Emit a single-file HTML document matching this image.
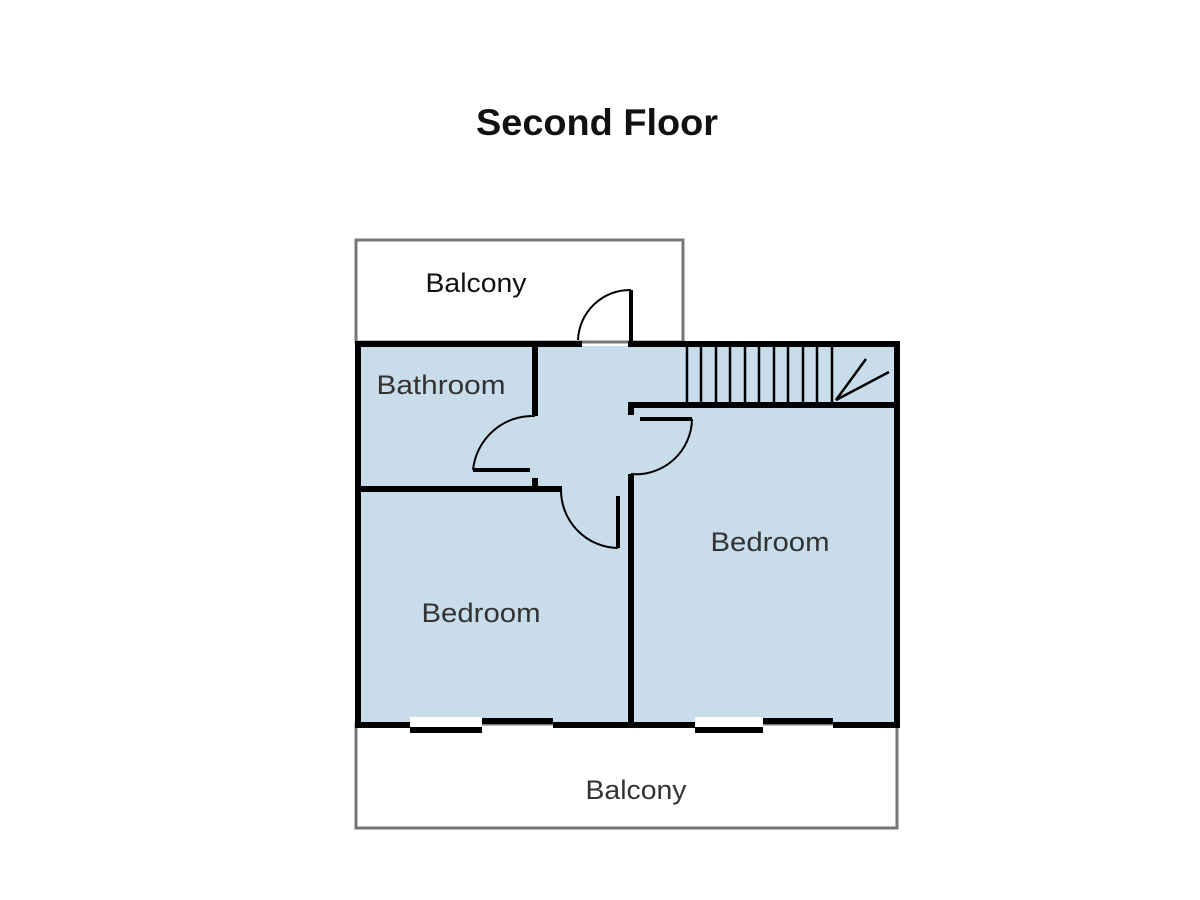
<!DOCTYPE html>
<html><head><style>
html,body{margin:0;padding:0;background:#fff;width:1200px;height:900px;overflow:hidden}
</style></head><body>
<svg width="1200" height="900" viewBox="0 0 1200 900" xmlns="http://www.w3.org/2000/svg" font-family="Liberation Sans, DejaVu Sans, sans-serif">
<text x="597" y="135" text-anchor="middle" font-size="37" font-weight="bold" fill="#111" textLength="242" lengthAdjust="spacingAndGlyphs">Second Floor</text>
<!-- top balcony -->
<rect x="356" y="240" width="327" height="102" fill="#fff" stroke="#777" stroke-width="3"/>
<text x="476" y="292" text-anchor="middle" font-size="27" fill="#111" textLength="101" lengthAdjust="spacingAndGlyphs">Balcony</text>
<!-- bottom balcony -->
<rect x="356" y="724" width="541" height="104" fill="#fff" stroke="#777" stroke-width="3"/>
<text x="636" y="799" text-anchor="middle" font-size="27" fill="#333" textLength="101" lengthAdjust="spacingAndGlyphs">Balcony</text>
<!-- main fill -->
<rect x="360" y="346" width="535" height="377" fill="#c9dcea"/>
<rect x="410" y="717" width="72" height="10" fill="#fff"/>
<rect x="695" y="717" width="68" height="10" fill="#fff"/>
<g stroke="#000" fill="none" stroke-width="6">
<polyline points="582,344 358,344 358,725 410,725"/>
<polyline points="628,344 897,344 897,725 833,725"/>
<line x1="553" y1="725" x2="695" y2="725"/>
<line x1="410" y1="730" x2="482" y2="730"/>
<line x1="482" y1="721" x2="553" y2="721"/>
<line x1="695" y1="730" x2="763" y2="730"/>
<line x1="763" y1="721" x2="833" y2="721"/>
<line x1="535" y1="344" x2="535" y2="416"/>
<line x1="358" y1="489" x2="562" y2="489"/>
<line x1="535" y1="478" x2="535" y2="489"/>
<line x1="628" y1="405" x2="897" y2="405"/>
<line x1="631" y1="405" x2="631" y2="415"/>
<line x1="631" y1="474" x2="631" y2="724"/>
</g>
<g stroke="#000" fill="none" stroke-width="4">
<line x1="631" y1="290" x2="631" y2="344"/>
<line x1="473" y1="470" x2="530" y2="470"/>
<line x1="640" y1="419" x2="692" y2="419"/>
<line x1="618" y1="496" x2="618" y2="548"/>
</g>
<g stroke="#000" fill="none" stroke-width="2">
<path d="M631,290 A52,52 0 0 0 578,340"/>
<path d="M535,416 A60,60 0 0 0 473,470"/>
<path d="M692,419 A56,56 0 0 1 631,474"/>
<path d="M561,489 A58,58 0 0 0 618,548"/>
<g stroke-width="2.5">
<line x1="687" y1="346" x2="687" y2="403"/>
<line x1="701" y1="346" x2="701" y2="403"/>
<line x1="716" y1="346" x2="716" y2="403"/>
<line x1="730" y1="346" x2="730" y2="403"/>
<line x1="745" y1="346" x2="745" y2="403"/>
<line x1="759" y1="346" x2="759" y2="403"/>
<line x1="774" y1="346" x2="774" y2="403"/>
<line x1="788" y1="346" x2="788" y2="403"/>
<line x1="803" y1="346" x2="803" y2="403"/>
<line x1="817" y1="346" x2="817" y2="403"/>
<line x1="832" y1="346" x2="832" y2="403"/>
<line x1="836" y1="400" x2="866" y2="359"/>
<line x1="836" y1="400" x2="889" y2="372"/>
</g>
</g>
<text x="441" y="394" text-anchor="middle" font-size="27" fill="#333" textLength="129" lengthAdjust="spacingAndGlyphs">Bathroom</text>
<text x="770" y="551" text-anchor="middle" font-size="27" fill="#333" textLength="119" lengthAdjust="spacingAndGlyphs">Bedroom</text>
<text x="481" y="622" text-anchor="middle" font-size="27" fill="#333" textLength="119" lengthAdjust="spacingAndGlyphs">Bedroom</text>
</svg>
</body></html>
